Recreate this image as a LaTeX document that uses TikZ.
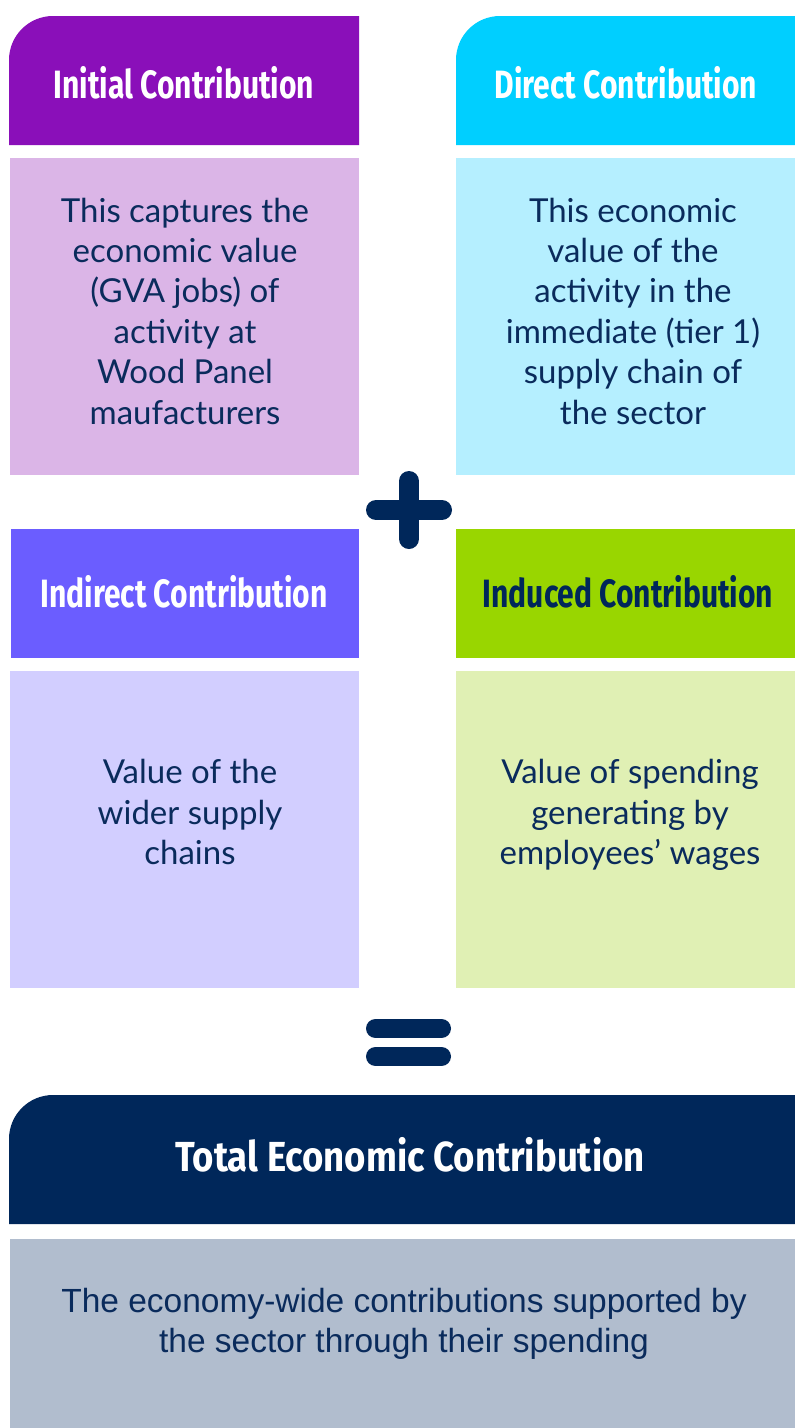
\documentclass[tikz,border=0pt]{standalone}
\usepackage{fontspec}
\setmainfont{Lato}
\newfontfamily\headfont[FakeStretch=0.76]{Fira Sans}
\newfontfamily\totalheadfont[FakeStretch=0.87]{Fira Sans}
\newfontfamily\plainsans{Liberation Sans}

\definecolor{navy}{HTML}{00275A}
\definecolor{ink}{HTML}{0A2B5C}
\definecolor{initHead}{HTML}{8A0FB9}
\definecolor{initBody}{HTML}{DBB5E7}
\definecolor{dirHead}{HTML}{00CFFF}
\definecolor{dirBody}{HTML}{B5EFFF}
\definecolor{indHead}{HTML}{6B5DFF}
\definecolor{indBody}{HTML}{D2CEFF}
\definecolor{indcHead}{HTML}{99D600}
\definecolor{indcBody}{HTML}{E0F0B4}
\definecolor{totBody}{HTML}{B1BDCE}

\tikzset{
  headtext/.style={font=\headfont\bfseries\fontsize{39.5}{44}\selectfont, text=white, inner sep=0pt},
  bodytext/.style={font=\fontsize{33}{40.4}\selectfont, text=ink, align=center, inner sep=0pt},
  sumsign/.style={draw=navy, line width=20pt, line cap=round},
}

\begin{document}
\begin{tikzpicture}[x=1pt,y=-1pt]
  % page frame
  \useasboundingbox (0,0) rectangle (795,1428);
  \fill[white] (0,0) rectangle (795,1428);

  % ---- top row: headers with a rounded top-left corner ----
  \fill[initHead] (9,145) [rounded corners=44pt] -- (9,16) [sharp corners] -- (359,16) -- (359,145) -- cycle;
  \fill[dirHead] (456,145) [rounded corners=44pt] -- (456,16) [sharp corners] -- (795,16) -- (795,145) -- cycle;
  \fill[initBody] (10,158) rectangle (359,475);
  \fill[dirBody] (456,158) rectangle (795,475);

  % ---- second row ----
  \fill[indHead] (11,529) rectangle (359,658);
  \fill[indcHead] (456,529) rectangle (795,658);
  \fill[indBody] (10,671) rectangle (359,988);
  \fill[indcBody] (456,671) rectangle (795,988);

  % ---- total ----
  \fill[navy] (9,1224) [rounded corners=44pt] -- (9,1095) [sharp corners] -- (795,1095) -- (795,1224) -- cycle;
  \fill[totBody] (10,1239) rectangle (795,1428);

  % ---- headings ----
  \node[headtext] (hInit) at (184,83) {Initial Contribution};
  \node[headtext] (hDir) at (626,83) {Direct Contribution};
  \node[headtext] (hInd) at (184,592) {Indirect Contribution};
  \node[headtext, text=navy] (hIndc) at (628,592) {Induced Contribution};
  \node[headtext, font=\totalheadfont\bfseries\fontsize{42}{46}\selectfont] (hTot) at (410,1155) {Total Economic Contribution};

  % ---- descriptions ----
  \node[bodytext] (bInit) at (185,311) {This captures the\\economic value\\(GVA jobs) of\\activity at\\Wood Panel\\maufacturers};
  \node[bodytext] (bDir) at (633,311) {This economic\\value of the\\activity in the\\immediate (tier 1)\\supply chain of\\the sector};
  \node[bodytext] (bInd) at (190,812) {Value of the\\wider supply\\chains};
  \node[bodytext] (bIndc) at (630,815) {Value of spending\\generating by\\employees’ wages};
  \node[bodytext, font=\plainsans\fontsize{33.5}{40.4}\selectfont] (bTot) at (404,1324)
    {The economy-wide contributions supported by\\the sector through their spending};

  % ---- plus sign ----
  \coordinate (plusL) at (376,510);
  \coordinate (plusR) at (442,510);
  \coordinate (plusT) at (409,481);
  \coordinate (plusB) at (409,539);
  \draw[sumsign] (plusL) -- (plusR);
  \draw[sumsign] (plusT) -- (plusB);

  % ---- equals sign ----
  \coordinate (eqAL) at (375.5,1028.5);
  \coordinate (eqAR) at (441.5,1028.5);
  \coordinate (eqBL) at (375.5,1056.5);
  \coordinate (eqBR) at (441.5,1056.5);
  \draw[sumsign, line width=19pt] (eqAL) -- (eqAR);
  \draw[sumsign, line width=19pt] (eqBL) -- (eqBR);
\end{tikzpicture}
\end{document}
